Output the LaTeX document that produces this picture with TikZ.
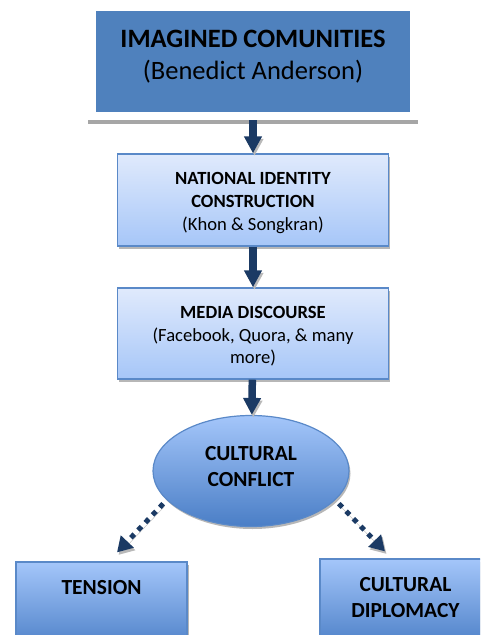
\documentclass[tikz,border=0pt]{standalone}
\usepackage{fontspec}
\setmainfont{Carlito}
\usetikzlibrary{positioning,shapes.geometric,shadows,arrows.meta}

\definecolor{titleblue}{HTML}{4F81BD}
\definecolor{navy}{HTML}{1B3A64}
\definecolor{edgeblue}{HTML}{5A89C8}
\definecolor{paletop}{HTML}{E0EAFC}
\definecolor{palebottom}{HTML}{A6C6F8}
\definecolor{deeptop}{HTML}{A4C6FA}
\definecolor{deepbottom}{HTML}{4A7EC6}

\tikzset{
	boxshadow/.style = {drop shadow = {shadow xshift = 1.5pt, shadow yshift = -2.5pt, fill = gray!80, opacity = 0.7}},
	backframe/.style = {rectangle, fill = white, minimum width = 330pt, minimum height = 118pt,
		drop shadow = {shadow xshift = 0pt, shadow yshift = -4pt, fill = gray!70, opacity = 1}},
	titlebox/.style = {rectangle, fill = titleblue, minimum width = 314pt, minimum height = 101pt,
		align = center, font = \fontsize{26.5}{32}\selectfont},
	palebox/.style = {rectangle, draw = edgeblue, line width = 1.4pt, top color = paletop, bottom color = palebottom,
		minimum width = 271pt, minimum height = 92pt, align = center, boxshadow},
	deepbox/.style = {rectangle, draw = edgeblue, line width = 1.2pt, top color = deeptop, bottom color = deepbottom,
		minimum width = 171pt, minimum height = 90pt, inner ysep = 0pt, boxshadow,
		font = \fontsize{21.5}{26}\selectfont\bfseries},
	conflictshape/.style = {ellipse, draw = edgeblue, line width = 1.2pt, top color = deeptop, bottom color = deepbottom,
		minimum width = 196pt, minimum height = 111pt, align = center, boxshadow,
		font = \fontsize{21.5}{26}\selectfont\bfseries},
	arrowshadow/.style = {preaction = {draw = gray!55, transform canvas = {shift = {(1.5pt,-2.5pt)}}}},
	flow/.style = {draw = navy, line width = 7.5pt, -{Triangle[width = 17pt, length = 17pt]}, arrowshadow},
	dotflow/.style = {draw = navy, line width = 5pt, dash pattern = on 5pt off 5.5pt,
		-{Triangle[width = 17pt, length = 15pt]}, arrowshadow}
}

\begin{document}
\begin{tikzpicture}[x = 1pt, y = 1pt]
		\useasboundingbox (0,0) rectangle (480,-635);
		\clip (0,0) rectangle (480,-635);
		\node (frame) [backframe] at (253,-61) {};
		\node (title) [titlebox] at (frame.center) {\textbf{IMAGINED COMUNITIES}\\(Benedict Anderson)\rule[-12.6pt]{0pt}{12.6pt}};
		\node (identity) [node distance = 139pt] [below of = title, palebox, font = \fontsize{18.6}{23.3}\selectfont] {\rule{0pt}{18pt}\textbf{NATIONAL IDENTITY}\\\textbf{CONSTRUCTION}\\(Khon \& Songkran)};
		\node (media) [node distance = 133.5pt] [below of = identity, palebox, minimum height = 91pt, font = \fontsize{18.6}{22.5}\selectfont] {\rule{0pt}{18pt}\textbf{MEDIA DISCOURSE}\\(Facebook, Quora, \& many\\more)};
		\node (conflict) [node distance = 137.5pt] [below of = media, xshift = -2pt, conflictshape] {CULTURAL\\CONFLICT\rule[-9.5pt]{0pt}{9.5pt}};
		\node (tension) [on grid, below left = 136pt and 149.5pt of conflict, deepbox, text height = 32.7pt, text depth = 57.3pt] {TENSION};
		\node (diplomacy) [on grid, below right = 133pt and 154.5pt of conflict, deepbox, align = center] {CULTURAL\\DIPLOMACY\rule[-14pt]{0pt}{14pt}};
		\coordinate (tensiontip) at ([xshift = 15.5pt, yshift = 9pt]tension.north);
		\coordinate (diplomacytip) at ([xshift = -20.5pt, yshift = 7pt]diplomacy.north);
		\path (frame) edge [flow] (identity);
		\path (identity) edge [flow] (media);
		\path (media) edge [flow] (conflict);
		\path (conflict.199) edge [dotflow, shorten <= 5pt] (tensiontip);
		\path (conflict.341) edge [dotflow, shorten <= 5pt] (diplomacytip);
\end{tikzpicture}
\end{document}
